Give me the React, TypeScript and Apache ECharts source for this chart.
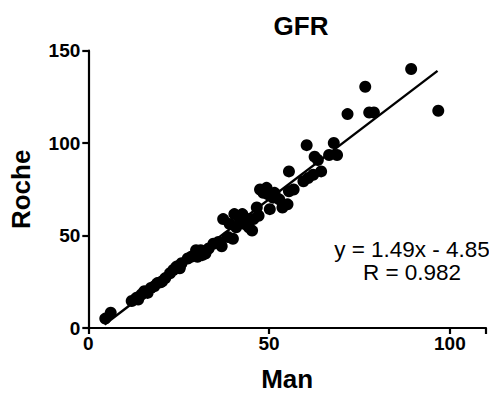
import React, { useEffect, useRef } from "react";
import * as echarts from "echarts";

const manValues = [
  4.7, 6.2, 12.0, 13.3, 13.8, 14.7, 15.5, 16.4, 17.3, 18.2, 19.1, 20.0, 20.4, 21.3,
  22.6, 23.5, 24.4, 25.3, 25.8, 27.5, 28.4, 29.8, 30.2, 31.1, 31.5, 32.4, 33.3,
  34.6, 36.0, 36.9, 37.3, 38.6, 39.1, 40.0, 40.4, 40.9, 41.7, 42.6, 43.1, 44.0,
  44.4, 45.3, 45.7, 46.6, 47.1, 47.5, 48.4, 49.3, 49.7, 50.2, 51.1, 51.5, 52.8,
  53.7, 55.1, 55.5, 55.5, 56.8, 59.5, 60.4, 60.8, 62.2, 62.6, 63.5, 64.4, 66.6,
  67.9, 68.8, 71.7, 76.6, 77.7, 79.0, 89.3, 96.8,
];
const rocheValues = [
  5.1, 8.3, 14.6, 16.3, 15.4, 18.1, 19.9, 19.0, 21.7, 22.5, 24.3, 24.7, 25.2, 27.0,
  29.6, 31.4, 33.2, 32.3, 35.0, 37.6, 38.5, 42.1, 38.5, 42.1, 39.4, 40.3, 43.0,
  45.6, 46.5, 44.2, 58.9, 49.2, 56.3, 48.3, 61.6, 54.5, 59.8, 61.6, 56.3, 58.9,
  54.5, 52.7, 58.9, 65.2, 60.7, 74.9, 73.1, 75.8, 72.3, 64.3, 70.5, 73.1, 69.6,
  65.2, 66.9, 84.7, 74.0, 74.9, 79.4, 98.9, 81.1, 82.9, 92.7, 90.9, 84.7, 93.6,
  100.1, 93.6, 115.7, 130.5, 116.6, 116.6, 140.1, 117.5,
];
const fitLineX = [4.5, 96.6];
const fitLineY = [1.9, 139.1];
const xTicks = [0, 50, 100];
const yTicks = [0, 50, 100, 150];

const titleText = "GFR";
const xName = "Man";
const yName = "Roche";
const eqLine1 = "y = 1.49x - 4.85";
const eqLine2 = "R = 0.982";

const FONT = "'Liberation Sans', Arial, Helvetica, sans-serif";

export default function App() {
  const ref = useRef<HTMLDivElement>(null);
  useEffect(() => {
    if (!ref.current) return;
    const chart = echarts.init(ref.current, null, { renderer: "svg" });
    const points = manValues.map((x, i) => [x, rocheValues[i]]);
    const fit = fitLineX.map((x, i) => [x, fitLineY[i]]);
    chart.setOption({
      animation: false,
      backgroundColor: "#fff",
      title: {
        text: titleText,
        left: 296,
        top: 8,
        textAlign: "center",
        textStyle: { fontFamily: FONT, fontSize: 26, fontWeight: "bold", color: "#000" },
      },
      grid: { left: 88.3, top: 50.7, bottom: 64.7, right: -12.3, containLabel: false },
      xAxis: {
        type: "value",
        min: 0,
        max: 110,
        interval: 50,
        name: xName,
        nameLocation: "middle",
        nameGap: 38,
        nameTextStyle: { fontFamily: FONT, fontSize: 26, fontWeight: "bold", color: "#000" },
        axisLine: { show: true, lineStyle: { color: "#000", width: 2.2 } },
        axisTick: { show: true, length: 6, lineStyle: { color: "#000", width: 2.2 } },
        axisLabel: {
          margin: 6,
          fontFamily: FONT,
          fontSize: 19,
          fontWeight: "bold",
          color: "#000",
          formatter: (v: number) => (xTicks.includes(v) ? String(v) : ""),
        },
        splitLine: { show: false },
      },
      yAxis: {
        type: "value",
        min: 0,
        max: 150,
        interval: 50,
        name: yName,
        nameLocation: "middle",
        nameGap: 54,
        nameRotate: 90,
        nameTextStyle: { fontFamily: FONT, fontSize: 26, fontWeight: "bold", color: "#000" },
        axisLine: { show: true, lineStyle: { color: "#000", width: 2.2 } },
        axisTick: { show: true, length: 6, lineStyle: { color: "#000", width: 2.2 } },
        axisLabel: {
          margin: 8,
          fontFamily: FONT,
          fontSize: 19,
          fontWeight: "bold",
          color: "#000",
          formatter: (v: number) => (yTicks.includes(v) ? String(v) : ""),
        },
        splitLine: { show: false },
      },
      series: [
        {
          type: "scatter",
          data: points,
          symbol: "circle",
          symbolSize: 12,
          itemStyle: { color: "#000", opacity: 1 },
          z: 3,
        },
        {
          type: "line",
          data: fit,
          symbol: "none",
          lineStyle: { color: "#000", width: 2.4 },
          z: 2,
        },
      ],
      graphic: [
        {
          type: "text",
          x: 412,
          y: 249,
          style: {
            text: eqLine1,
            fontFamily: FONT,
            fontSize: 22.5,
            fill: "#000",
            textAlign: "center",
            textVerticalAlign: "middle",
          },
        },
        {
          type: "text",
          x: 412,
          y: 272.5,
          style: {
            text: eqLine2,
            fontFamily: FONT,
            fontSize: 22.5,
            fill: "#000",
            textAlign: "center",
            textVerticalAlign: "middle",
          },
        },
      ],
    });
    return () => chart.dispose();
  }, []);
  return <div ref={ref} style={{ width: 489, height: 397, position: "fixed", left: 0, top: 0 }} />;
}
